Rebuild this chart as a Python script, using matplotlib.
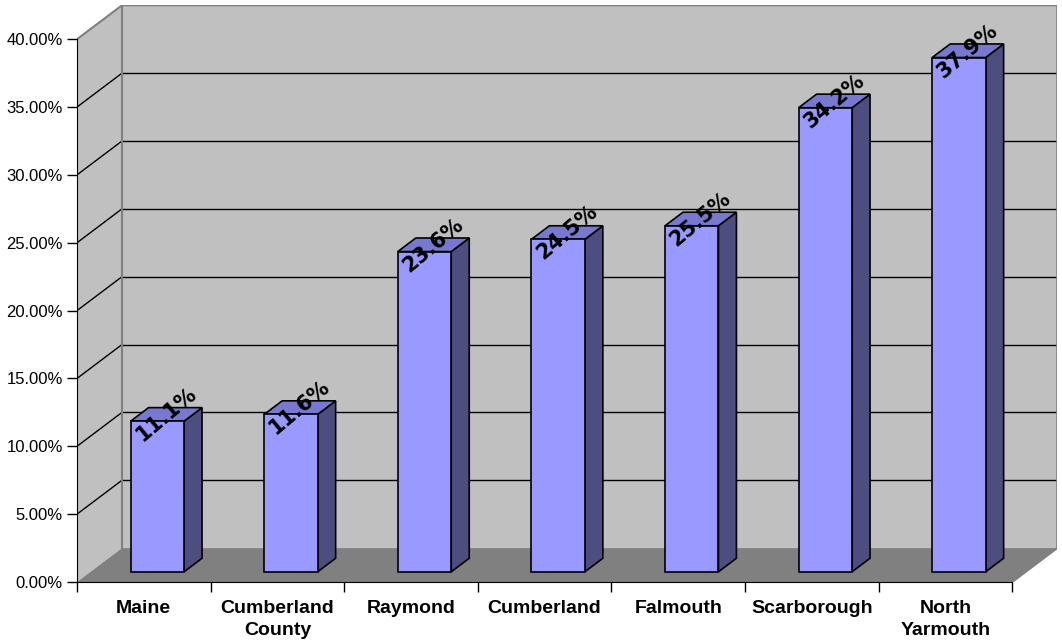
import matplotlib
matplotlib.use("Agg")
import matplotlib.pyplot as plt
from matplotlib.ticker import FuncFormatter

# data
towns = ['Maine', 'Cumberland\nCounty', 'Raymond', 'Cumberland',
         'Falmouth', 'Scarborough', 'North\nYarmouth']
pct = [11.1, 11.6, 23.6, 24.5, 25.5, 34.2, 37.9]
yticks = [0, 5, 10, 15, 20, 25, 30, 35, 40]

# oblique 3d look: depth offset in data units
DX = 0.337   # category units
DY = 2.5     # percent units
n = len(towns)
ymax = yticks[-1]


def proj(x, y, z):
    return x + z * DX, y + z * DY


plt.rcParams['font.family'] = ['Liberation Sans', 'DejaVu Sans']

fig = plt.figure(figsize=(10.62, 6.44), dpi=100)
W, H = 1062, 644
left, bottom = 77, 582
pxc, pxp = 133.6, 13.57
ax = fig.add_axes([left / W, (H - bottom) / H,
                   (n + DX) * pxc / W, (ymax + DY) * pxp / H])
ax.set_xlim(0, n + DX)
ax.set_ylim(0, ymax + DY)
ax.patch.set_alpha(0)

wall = '#c0c0c0'
edge = '#808080'

# side wall and back wall
sx = [0, DX, DX, 0]
sy = [0, DY, ymax + DY, ymax]
ax.fill(sx, sy, color=wall, zorder=0, lw=0)
ax.fill([DX, n + DX, n + DX, DX], [DY, DY, ymax + DY, ymax + DY],
        color=wall, zorder=0, lw=0)

# floor
ax.fill([0, n, n + DX, DX], [0, 0, DY, DY], color='#808080', zorder=1, lw=0)

# gridlines
for v in yticks[1:-1]:
    ax.plot([0, DX], [v, v + DY], color='black', lw=1, zorder=1)
    ax.plot([DX, n + DX], [v + DY, v + DY], color='black', lw=1, zorder=1)

# wall edges
ax.plot([0, DX, n + DX, n + DX], [ymax, ymax + DY, ymax + DY, DY],
        color=edge, lw=1.5, zorder=1)
ax.plot([DX, DX], [DY, ymax + DY], color=edge, lw=1.5, zorder=1)
ax.plot([n, n + DX], [0, DY], color=edge, lw=1.5, zorder=1)

# bars
z0, z1 = 0.3, 0.7
for i, v in enumerate(pct):
    xa, xb = i + 0.3, i + 0.7
    # side face
    p = [proj(xb, 0, z0), proj(xb, 0, z1), proj(xb, v, z1), proj(xb, v, z0)]
    ax.fill(*zip(*p), facecolor='#4d4d80', edgecolor='black', lw=1.2, zorder=3)
    # top face
    p = [proj(xa, v, z0), proj(xb, v, z0), proj(xb, v, z1), proj(xa, v, z1)]
    ax.fill(*zip(*p), facecolor='#7878d0', edgecolor='black', lw=1.2, zorder=3)
    # front face
    p = [proj(xa, 0, z0), proj(xb, 0, z0), proj(xb, v, z0), proj(xa, v, z0)]
    ax.fill(*zip(*p), facecolor='#9999ff', edgecolor='black', lw=1.2, zorder=3)
    cx, cy = proj(i + 0.5, v, 0.5)
    ax.text(cx, cy, f'{v:.1f}%', rotation=40, ha='center', va='center',
            fontsize=15, family='DejaVu Sans', fontweight='bold',
            color='black', zorder=5, rotation_mode='anchor')

# axes
for s in ['top', 'right']:
    ax.spines[s].set_visible(False)
ax.spines['left'].set_bounds(0, ymax)
ax.spines['bottom'].set_bounds(0, n)
for s in ['left', 'bottom']:
    ax.spines[s].set_color('black')
    ax.spines[s].set_zorder(2)

ax.set_yticks(yticks)
ax.yaxis.set_major_formatter(FuncFormatter(lambda v, _: f'{v:.2f}%'))
ax.tick_params(axis='y', direction='out', length=7.2, width=1, pad=3,
               labelsize=12)
ax.set_xticks(range(n + 1))
ax.set_xticklabels([])
ax.set_xticks([i + 0.5 for i in range(n)], minor=True)
ax.set_xticklabels(towns, minor=True, fontweight='bold', fontsize=14,
                   linespacing=1.35)
ax.tick_params(axis='x', which='major', direction='out', length=7.2, width=1)
ax.tick_params(axis='x', which='minor', length=0, pad=13)

fig.savefig('out.png', dpi=100)
